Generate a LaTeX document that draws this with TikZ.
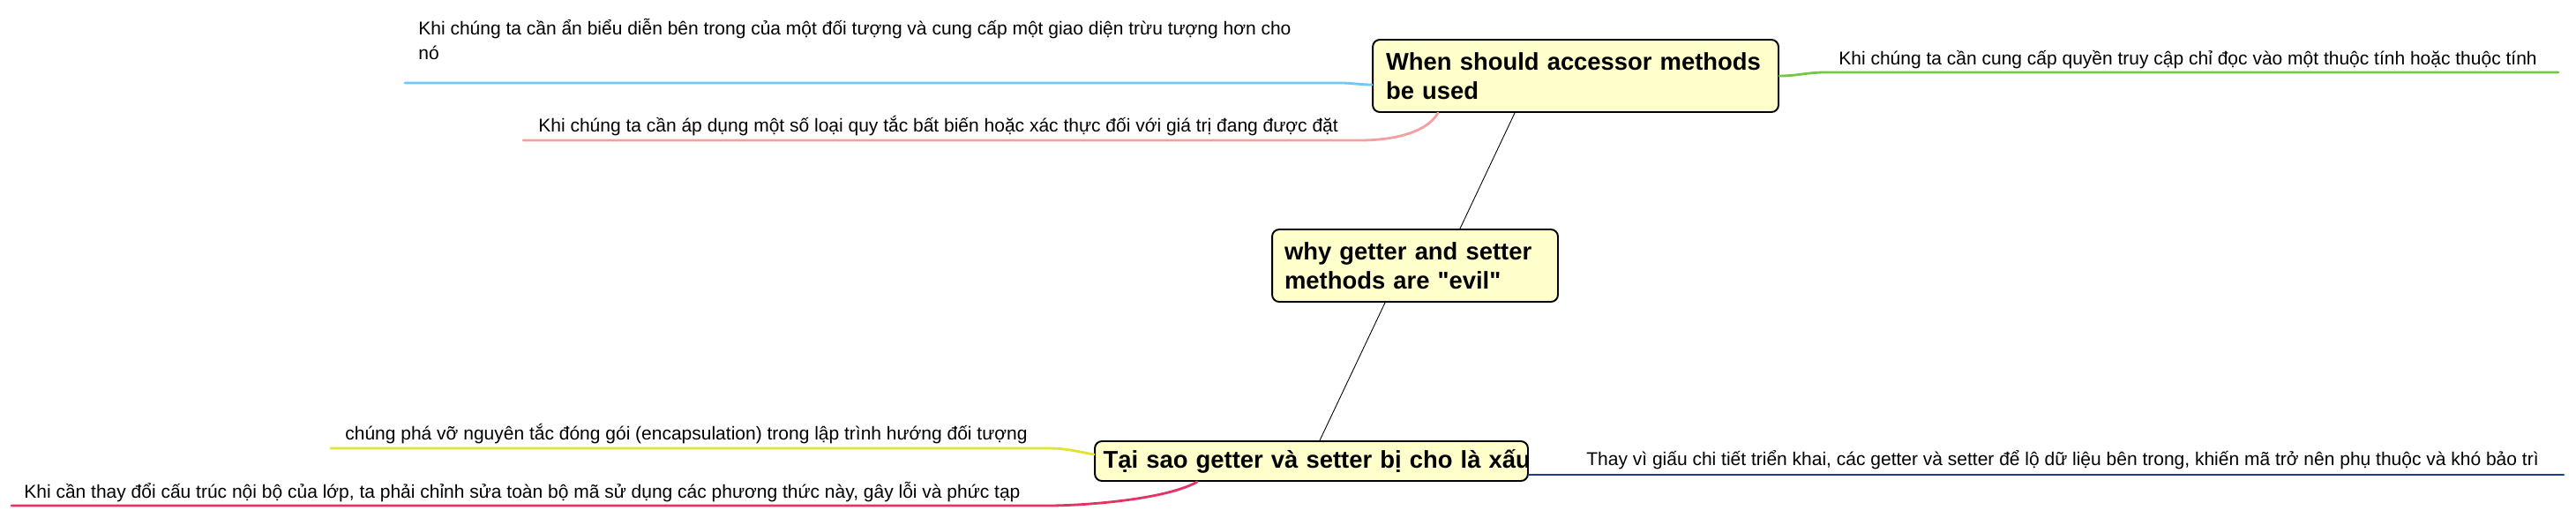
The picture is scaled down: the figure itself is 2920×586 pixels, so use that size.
\documentclass[tikz,border=0pt]{standalone}
\usepackage{fontspec}
\setmainfont{Liberation Sans}[Ligatures=TeXOff]
\usepackage{xcolor}
\definecolor{boxfill}{HTML}{FFFFCC}
\definecolor{brblue}{HTML}{6EC8FA}
\definecolor{brpink}{HTML}{F4A0A0}
\definecolor{brgreen}{HTML}{76C844}
\definecolor{bryellow}{HTML}{E2E232}
\definecolor{brcrimson}{HTML}{E63264}
\definecolor{brnavy}{HTML}{1E3C96}

\begin{document}
\begin{tikzpicture}[
  x=0.02cm, y=-0.02cm,
  topic/.style={rectangle, rounded corners=0.16cm, draw=black, line width=1.1pt,
                fill=boxfill, inner sep=0pt, align=left,
                font=\fontsize{15.6}{18.8}\selectfont\bfseries},
  leaf/.style={inner sep=0pt, anchor=base west, align=left,
               font=\fontsize{11.95}{15.4}\selectfont},
  link/.style={black, line width=0.5pt},
  branch/.style={line width=1.6pt, line cap=round}
]
\useasboundingbox (0,0) rectangle (2920,586);

% main topics
\node[topic, minimum width=9.2cm, minimum height=1.64cm, text width=8.6cm] (when) at (1786,86)
  {When should accessor methods\\be used};
\node[topic, minimum width=6.48cm, minimum height=1.64cm, text width=5.92cm] (why) at (1604,301)
  {why getter and setter\\methods are "evil"};
\node[topic, minimum width=9.82cm, minimum height=0.9cm, text width=9.44cm] (tai) at (1486.5,522.5)
  {\mbox{Tại sao getter và setter bị cho là xấu}};

\draw[link] ([xshift=-1.38cm]when.south) -- ([xshift=1.02cm]why.north);
\draw[link] ([xshift=-0.68cm]why.south) -- ([xshift=0.19cm]tai.north);

% leaves of the first topic
\node[leaf] (hide) at (474,67)
  {Khi chúng ta cần ẩn biểu diễn bên trong của một đối tượng và cung cấp một giao diện trừu tượng hơn cho\\nó};
\node[leaf] (rule) at (610,149)
  {Khi chúng ta cần áp dụng một số loại quy tắc bất biến hoặc xác thực đối với giá trị đang được đặt};
\node[leaf] (readonly) at (2084,73)
  {Khi chúng ta cần cung cấp quyền truy cập chỉ đọc vào một thuộc tính hoặc thuộc tính};

\coordinate (hide0) at (1519,94);
\coordinate (hide1) at (459,94);
\coordinate (rule0) at (1542,159);
\coordinate (rule1) at (593,159);
\coordinate (ro0) at (2069,82);
\coordinate (ro1) at (2900,82);

\draw[branch, brblue] (when.west |- 0,96) to[out=180,in=0] (hide0) -- (hide1);
\draw[branch, brpink] ([xshift=-3.12cm]when.south) to[out=-120,in=0,looseness=0.8] (rule0) -- (rule1);
\draw[branch, brgreen] (when.east) to[out=0,in=180] (ro0) -- (ro1);

% leaves of the last topic
\node[leaf] (encap) at (391,498)
  {chúng phá vỡ nguyên tắc đóng gói (encapsulation) trong lập trình hướng đối tượng};
\node[leaf] (change) at (27,564)
  {Khi cần thay đổi cấu trúc nội bộ của lớp, ta phải chỉnh sửa toàn bộ mã sử dụng các phương thức này, gây lỗi và phức tạp};
\node[leaf] (expose) at (1798,527)
  {Thay vì giấu chi tiết triển khai, các getter và setter để lộ dữ liệu bên trong, khiến mã trở nên phụ thuộc và khó bảo trì};

\coordinate (encap0) at (1188,508);
\coordinate (encap1) at (375,508);
\coordinate (change0) at (1188,573);
\coordinate (change1) at (13,573);
\coordinate (expose1) at (2906,538);

\draw[branch, bryellow] (tai.west |- 0,515) to[out=170,in=0] (encap0) -- (encap1);
\draw[branch, brcrimson] ([xshift=-2.59cm]tai.south) to[out=-150,in=0,looseness=0.6] (change0) -- (change1);
\draw[branch, brnavy] (tai.east |- expose1) -- (expose1);
\end{tikzpicture}
\end{document}
